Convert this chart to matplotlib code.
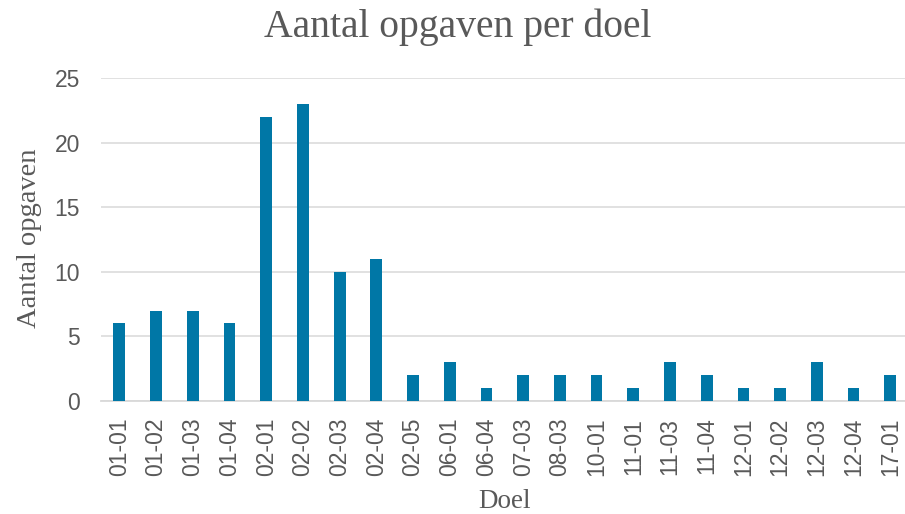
import matplotlib.pyplot as plt
import numpy as np

# data
doelen = ['01-01', '01-02', '01-03', '01-04', '02-01', '02-02', '02-03', '02-04',
          '02-05', '06-01', '06-04', '07-03', '08-03', '10-01', '11-01', '11-03',
          '11-04', '12-01', '12-02', '12-03', '12-04', '17-01']
aantallen = [6, 7, 7, 6, 22, 23, 10, 11, 2, 3, 1, 2, 2, 2, 1, 3, 2, 1, 1, 3, 1, 2]
y_ticks = [0, 5, 10, 15, 20, 25]

text_color = '#595959'
bar_color = '#0077A6'
grid_color = '#D9D9D9'


def createplot():
    fig = plt.figure(figsize=(9.05, 5.14), dpi=100)
    ax = fig.add_axes([101 / 905, 1 - 401 / 514, 804 / 905, (401 - 78) / 514])

    x = np.arange(len(doelen))
    ax.bar(x, aantallen, width=0.32, color=bar_color, zorder=3)

    ax.set_xlim(-0.5, len(doelen) - 0.6)
    ax.set_ylim(0, 25)
    ax.set_yticks(y_ticks)
    ax.set_xticks(x)
    ax.set_xticklabels(doelen, rotation=90)

    ax.grid(axis='y', color=grid_color, linewidth=1.1, zorder=0)
    for side in ['top', 'right', 'left']:
        ax.spines[side].set_visible(False)
    ax.spines['bottom'].set_color(grid_color)
    ax.spines['bottom'].set_linewidth(1.3)

    ax.tick_params(axis='both', length=0, labelcolor=text_color, labelsize=16.5,
                   labelfontfamily='Liberation Sans')
    ax.tick_params(axis='y', pad=15)
    ax.tick_params(axis='x', pad=12)

    serif = 'Liberation Serif'
    fig.text(457.5 / 905, 1 - 37 / 514, 'Aantal opgaven per doel', ha='center',
             va='baseline', fontsize=28.5, family=serif, color=text_color)
    fig.text(30 / 905, 1 - 238.5 / 514, 'Aantal opgaven', rotation=90,
             ha='center', va='center', fontsize=20.5, family=serif, color=text_color)
    fig.text(505 / 905, 1 - 508 / 514, 'Doel', ha='center', va='baseline',
             fontsize=19.5, family=serif, color=text_color)

    fig.savefig('out.png', dpi=100)


if __name__ == "__main__":
    createplot()
